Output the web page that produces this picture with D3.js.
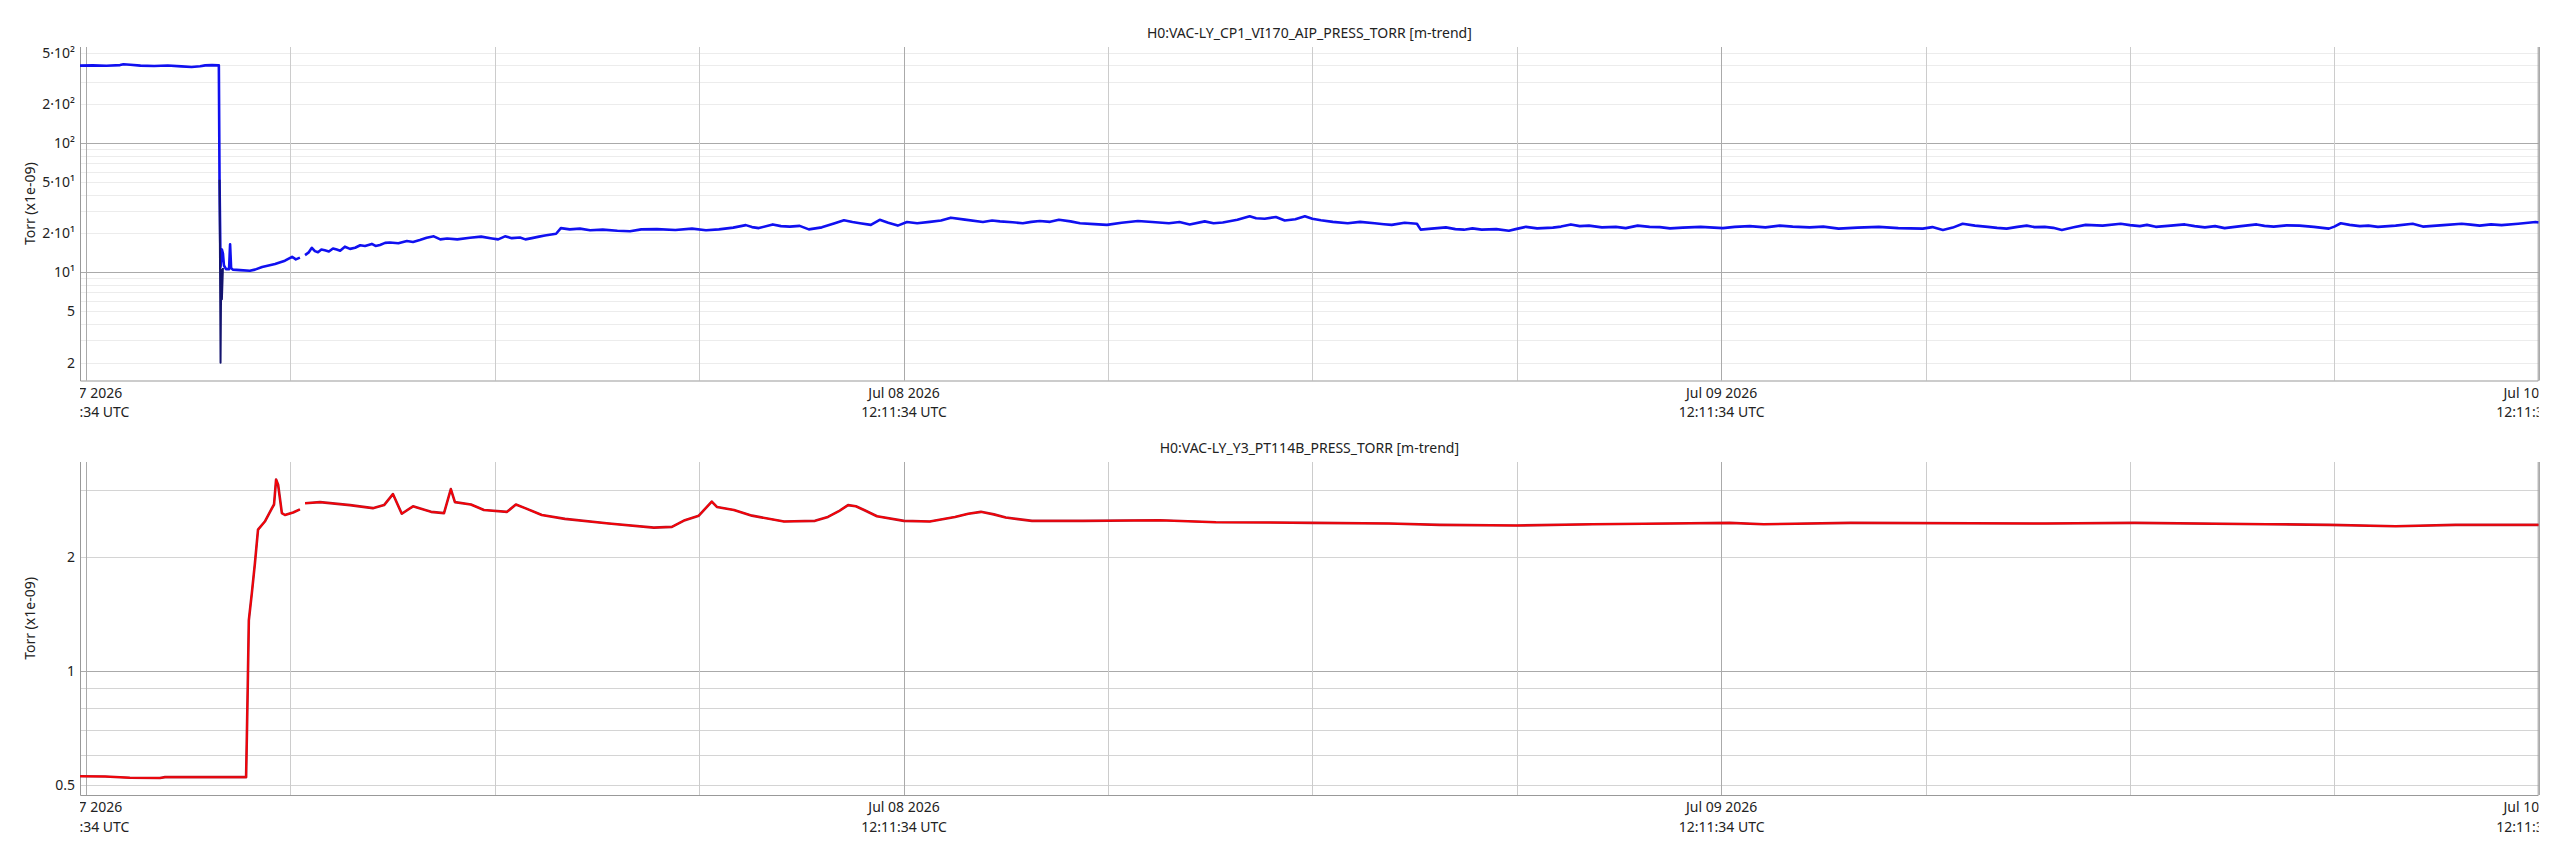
<!DOCTYPE html>
<html>
<head>
<meta charset="utf-8">
<script src="https://cdn.jsdelivr.net/npm/d3@7/dist/d3.min.js"></script>
<style>
  html, body { margin: 0; padding: 0; background: #fff; }
  svg text { font-family: "Noto Sans", "Open Sans", sans-serif; font-size: 14px; fill: #222; }
</style>
</head>
<body>
<svg id="chart" width="2555" height="850"></svg>
<script>
// hours are counted from Jul 07 2026 12:11:34 UTC
var t0 = Date.UTC(2026, 6, 7, 12, 11, 34);
var spanHours = [-0.176, 72.0];

// H0:VAC-LY_CP1_VI170_AIP_PRESS_TORR, x1e-09 Torr (null = data gap)
var topHours = [-0.18, 0.2, 0.6, 1.0, 1.1, 1.3, 1.6, 2.0, 2.4, 2.8, 3.1, 3.35, 3.5, 3.7, 3.88, 3.9,
  3.92, 3.95, 3.99, 4.02, 4.05, 4.11, 4.2, 4.23, 4.26, 4.31, 4.52, 4.81, 4.96, 5.17, 5.55, 5.84, 6.05, 6.16, 6.28,
  6.35,
  6.43, 6.53, 6.63, 6.72, 6.81, 6.91, 7.01, 7.13, 7.25, 7.36, 7.46, 7.6, 7.75, 7.9, 8.05, 8.19, 8.39, 8.5, 8.63,
  8.78, 8.92, 9.17, 9.42, 9.6, 9.8, 10.0, 10.21, 10.4, 10.6, 10.9, 11.27, 11.6, 11.92, 12.1, 12.3, 12.5, 12.74,
  12.9, 13.09, 13.3, 13.47, 13.8, 13.94, 14.2, 14.5, 14.8, 15.17, 15.6, 15.97, 16.3, 16.76, 17.3, 17.79, 18.2,
  18.58, 19.0, 19.37, 19.55, 19.75, 20.16, 20.4, 20.66, 20.95, 21.22, 21.6, 21.98, 22.25, 22.5, 22.72, 23.04,
  23.3, 23.55, 23.83, 24.1, 24.4, 24.77, 25.1, 25.39, 25.8, 26.33, 26.6, 26.83, 27.2, 27.5, 27.75, 28.0, 28.3,
  28.56, 28.9, 29.18, 29.6, 29.97, 30.4, 30.88, 31.3, 31.79, 32.1, 32.4, 32.84, 33.1, 33.37, 33.8, 34.16, 34.35,
  34.6, 34.93, 35.19, 35.5, 35.78, 36.0, 36.25, 36.6, 37.04, 37.4, 37.83, 38.1, 38.33, 38.71, 39.07, 39.18,
  39.5, 39.92, 40.2, 40.45, 40.7, 40.97, 41.4, 41.77, 42.0, 42.27, 42.6, 43.06, 43.3, 43.59, 43.85, 44.12, 44.5,
  44.91, 45.2, 45.55, 45.9, 46.2, 46.5, 46.87, 47.4, 48.05, 48.4, 48.84, 49.3, 49.72, 50.1, 50.6, 51.0, 51.45,
  52.0, 52.63, 53.2, 53.92, 54.2, 54.51, 54.8, 55.09, 55.45, 55.83, 56.1, 56.38, 56.7, 56.97, 57.2, 57.5, 57.75,
  58.0, 58.35, 58.7, 59.2, 59.73, 60.0, 60.29, 60.5, 60.76, 61.2, 61.61, 61.9, 62.2, 62.5, 62.78, 63.2, 63.72,
  63.95, 64.22, 64.6, 64.98, 65.4, 65.84, 66.0, 66.19, 66.45, 66.75, 67.0, 67.28, 67.8, 68.3, 68.6, 69.2, 69.74,
  70.0, 70.27, 70.6, 70.91, 71.4, 71.91, 72.0];
var topValues = [398, 400, 397, 402, 408, 405, 398, 396, 399, 393, 389, 394, 400, 402, 400, 400,
  52, 11, 15, 14, 11.3, 10.6, 10.6, 16.5, 10.8, 10.5, 10.4, 10.3, 10.5, 11.0, 11.6, 12.3, 13.2, 12.6, 13.0,
  null,
  13.6, 14.2, 15.5, 14.6, 14.3, 15.0, 14.8, 14.5, 15.3, 15.0, 14.7, 15.8, 15.2, 15.5, 16.2, 16.0, 16.6, 16.0, 16.3,
  16.9, 17.0, 16.8, 17.5, 17.2, 17.8, 18.5, 19.0, 18.0, 18.3, 18.0, 18.5, 18.9, 18.3, 18.0, 19.0, 18.4, 18.6,
  18.0, 18.4, 18.9, 19.3, 19.9, 22.0, 21.5, 21.8, 21.2, 21.4, 21.0, 20.8, 21.5, 21.6, 21.3, 21.8, 21.2,
  21.5, 22.2, 23.2, 22.4, 22.0, 23.5, 22.8, 22.6, 22.9, 21.5, 22.3, 24.0, 25.3, 24.5, 24.0, 23.3,
  25.5, 24.2, 23.0, 24.5, 24.0, 24.6, 25.2, 26.5, 25.6, 24.5, 25.2, 24.8, 24.4, 24.0, 24.6, 25.0, 24.6,
  25.5, 24.8, 24.0, 23.6, 23.3, 24.2, 25.0, 24.5, 24.0, 24.5, 23.5, 24.8, 24.0, 24.3, 25.5, 27.2, 26.2,
  26.0, 26.8, 25.2, 25.8, 27.2, 26.0, 25.3, 24.6, 24.0, 24.6, 24.0, 23.6, 23.3, 24.2, 23.8, 21.4,
  21.8, 22.3, 21.6, 21.4, 21.9, 21.4, 21.6, 21.0, 21.7, 22.5, 21.9, 22.2, 22.6, 23.5, 22.8, 23.0, 22.3,
  22.5, 22.0, 23.0, 22.5, 22.4, 21.9, 22.2, 22.5, 22.0, 22.5, 22.8, 22.3, 23.0, 22.6, 22.3, 22.6, 21.8,
  22.2, 22.5, 22.0, 21.8, 22.4, 21.3, 22.2, 23.8, 23.0, 22.5, 22.1, 21.8, 22.5, 23.0, 22.4, 22.5, 22.1,
  21.3, 22.3, 23.3, 23.0, 23.8, 23.2, 22.8, 23.3, 22.5, 23.0, 23.5, 22.8, 22.3, 22.8, 22.0, 22.7, 23.5,
  22.9, 22.6, 23.1, 23.0, 22.5, 21.8, 22.6, 24.0, 23.3, 22.8, 23.0, 22.5, 23.0, 23.8, 22.6, 23.2, 23.8,
  23.4, 23.0, 23.5, 23.2, 23.8, 24.5, 24.3];
// minimum trend during the pump-down drop
var topMinHours = [3.92, 3.95, 3.97, 3.99, 4.02];
var topMinValues = [52, 2.0, 10.5, 6.2, 10.8];

// H0:VAC-LY_Y3_PT114B_PRESS_TORR, x1e-09 Torr
var botHours = [-0.18, 0.56, 1.29, 2.17, 2.32, 3.35, 4.7, 4.73, 4.75, 4.78, 4.87, 4.96, 5.05, 5.25, 5.46,
  5.52, 5.58, 5.64, 5.75, 5.84, 6.08, 6.28, 6.35, 6.43, 6.87, 7.75, 8.42, 8.75, 9.01, 9.27, 9.6, 10.13, 10.51,
  10.71, 10.83, 11.3, 11.68, 12.36, 12.62, 12.89, 13.38, 14.06, 15.35, 16.67, 17.2, 17.58, 17.99, 18.37, 18.52,
  19.02, 19.55, 20.49, 21.4, 21.78, 22.1, 22.37, 22.6, 22.84, 23.22, 24.01, 24.77, 25.51, 25.9, 26.27, 26.65,
  27.0, 27.77, 29.26, 31.52, 33.17, 36.01, 38.25, 39.74, 42.0, 44.23, 46.49, 48.25, 49.25, 51.8, 57.53, 60.14,
  64.02, 65.86, 67.8, 69.56, 71.88, 72.0];
var botValues = [0.528, 0.527, 0.523, 0.522, 0.525, 0.525, 0.525, 0.735, 0.93, 1.36, 1.61, 1.93, 2.36, 2.48, 2.69,
  2.75, 3.2, 3.1, 2.61, 2.58, 2.62, 2.67, null, 2.77, 2.79, 2.74, 2.69, 2.74, 2.93, 2.6, 2.72, 2.63, 2.61,
  3.02, 2.79, 2.75, 2.66, 2.63, 2.75, 2.69, 2.58, 2.52, 2.45, 2.39, 2.4, 2.5, 2.57, 2.8, 2.71,
  2.66, 2.57, 2.48, 2.49, 2.55, 2.64, 2.74, 2.72, 2.66, 2.56, 2.49, 2.48, 2.55, 2.6, 2.63, 2.59,
  2.54, 2.49, 2.49, 2.5, 2.47, 2.46, 2.45, 2.43, 2.42, 2.44, 2.45, 2.46, 2.44, 2.46, 2.45, 2.46,
  2.44, 2.43, 2.41, 2.43, 2.43, 2.43];

var topTicks = [2, 5, 10, 20, 50, 100, 200, 500];
var topTickLabels = ['2', '5', '10\u00b9', '2\u00b710\u00b9', '5\u00b710\u00b9', '10\u00b2', '2\u00b710\u00b2', '5\u00b710\u00b2'];
var botTicks = [0.5, 1, 2];
var botTickLabels = ['0.5', '1', '2'];

var svg = d3.select('#chart');
var left = 80, right = 2538.7;

function hoursToDate(h) {
  return new Date(t0 + h * 3600e3);
}

var x = d3.scaleUtc()
  .domain(spanHours.map(hoursToDate))
  .range([left, right]);

var majorTimes = d3.range(0, 73, 24).map(hoursToDate);
var minorTimes = d3.range(0, 73, 6).filter(function(h) { return h % 24 !== 0; }).map(hoursToDate);

function drawPanel(opts) {
  var g = svg.append('g').attr('class', 'panel-' + opts.id);
  var y = d3.scaleLog().domain(opts.domain).range([opts.bottom, opts.top]);

  var clipId = 'clip-' + opts.id;
  svg.append('clipPath').attr('id', clipId)
    .append('rect')
    .attr('x', left).attr('y', opts.top)
    .attr('width', right - left).attr('height', opts.bottom - opts.top);
  var labelClipId = 'lclip-' + opts.id;
  svg.append('clipPath').attr('id', labelClipId)
    .append('rect')
    .attr('x', left).attr('y', opts.bottom)
    .attr('width', right - left).attr('height', 60);

  // horizontal grid
  var gridVals = [];
  var lo = Math.floor(Math.log10(opts.domain[0])), hi = Math.ceil(Math.log10(opts.domain[1]));
  for (var e = lo; e <= hi; e++) {
    for (var k = 1; k <= 9; k++) {
      var v = k * Math.pow(10, e);
      if (v >= opts.domain[0] && v <= opts.domain[1]) gridVals.push({ v: v, major: k === 1 });
    }
  }
  g.append('g').selectAll('line')
    .data(gridVals)
    .enter()
    .append('line')
    .attr('x1', left).attr('x2', right)
    .attr('y1', function(d) { return Math.round(y(d.v)) + 0.5; })
    .attr('y2', function(d) { return Math.round(y(d.v)) + 0.5; })
    .attr('stroke', function(d) { return d.major ? '#aaaaaa' : opts.minorColor; })
    .attr('stroke-width', 1);

  // vertical grid
  g.append('g').selectAll('line')
    .data(minorTimes)
    .enter()
    .append('line')
    .attr('x1', function(d) { return Math.round(x(d)) + 0.5; })
    .attr('x2', function(d) { return Math.round(x(d)) + 0.5; })
    .attr('y1', opts.top).attr('y2', opts.bottom)
    .attr('stroke', '#cccccc');
  g.append('g').selectAll('line')
    .data(majorTimes)
    .enter()
    .append('line')
    .attr('x1', function(d) { return Math.round(x(d)) + 0.5; })
    .attr('x2', function(d) { return Math.round(x(d)) + 0.5; })
    .attr('y1', opts.top).attr('y2', opts.bottom)
    .attr('stroke', '#aaaaaa');

  // frame: left, bottom, right
  g.append('path')
    .attr('d', 'M' + (left + 0.5) + ',' + opts.top + 'V' + (opts.bottom + 0.5) +
      'H' + (right - 0.5) + 'V' + opts.top)
    .attr('fill', 'none')
    .attr('stroke', '#999999');

  // series
  var line = d3.line()
    .defined(function(d) { return d[1] !== null; })
    .x(function(d) { return x(hoursToDate(d[0])); })
    .y(function(d) { return y(d[1]); });

  var plot = g.append('g').attr('clip-path', 'url(#' + clipId + ')');
  opts.series.forEach(function(s) {
    plot.append('path')
      .datum(d3.zip(s.hours, s.values))
      .attr('fill', 'none')
      .attr('stroke', s.color)
      .attr('stroke-width', s.width)
      .attr('stroke-linejoin', 'round')
      .attr('d', line);
  });

  // y axis labels
  var yAxis = d3.axisLeft(y)
    .tickValues(opts.ticks)
    .tickFormat(function(d, i) { return opts.tickLabels[i]; })
    .tickSize(0)
    .tickPadding(5);
  var ya = g.append('g')
    .attr('transform', 'translate(' + left + ',0)')
    .call(yAxis);
  ya.select('.domain').remove();
  ya.selectAll('text').style('font-size', '14px').attr('fill', '#222');

  // x axis labels, two lines, clipped to the plot width
  var xAxis = d3.axisBottom(x)
    .tickValues(majorTimes)
    .tickSize(0)
    .tickPadding(0)
    .tickFormat(d3.utcFormat('%b %d %Y'));
  var xa = g.append('g')
    .attr('clip-path', 'url(#' + labelClipId + ')')
    .append('g')
    .attr('transform', 'translate(0,' + opts.bottom + ')')
    .call(xAxis);
  xa.select('.domain').remove();
  xa.selectAll('.tick text')
    .attr('y', 0)
    .attr('dy', null)
    .style('font-size', '14px')
    .attr('fill', '#222')
    .text(null)
    .each(function(d) {
      var t = d3.select(this);
      t.append('tspan').attr('x', 0).attr('y', 17).text(d3.utcFormat('%b %d %Y')(d));
      t.append('tspan').attr('x', 0).attr('y', 36.5).text(d3.utcFormat('%H:%M:%S UTC')(d));
    });

  // titles
  g.append('text')
    .attr('x', (left + right) / 2)
    .attr('y', opts.top - 9)
    .attr('text-anchor', 'middle')
    .text(opts.title);

  g.append('text')
    .attr('transform', 'translate(35,' + ((opts.top + opts.bottom) / 2 - 10) + ') rotate(-90)')
    .attr('text-anchor', 'middle')
    .text('Torr (x1e-09)');
}

drawPanel({
  id: 'top',
  top: 47, bottom: 380.5,
  domain: [1.455, 555],
  ticks: topTicks, tickLabels: topTickLabels,
  minorColor: '#ececec',
  title: 'H0:VAC-LY_CP1_VI170_AIP_PRESS_TORR [m-trend]',
  series: [
    { hours: topHours, values: topValues, color: '#1010f0', width: 2.6 },
    { hours: topMinHours, values: topMinValues, color: '#14146e', width: 2 }
  ]
});

drawPanel({
  id: 'bottom',
  top: 462, bottom: 795,
  domain: [0.471, 3.56],
  ticks: botTicks, tickLabels: botTickLabels,
  minorColor: '#d4d4d4',
  title: 'H0:VAC-LY_Y3_PT114B_PRESS_TORR [m-trend]',
  series: [
    { hours: botHours, values: botValues, color: '#b0182f', width: 2.6 },
    { hours: botHours, values: botValues, color: '#ff0000', width: 1.4 }
  ]
});
</script>
</body>
</html>
